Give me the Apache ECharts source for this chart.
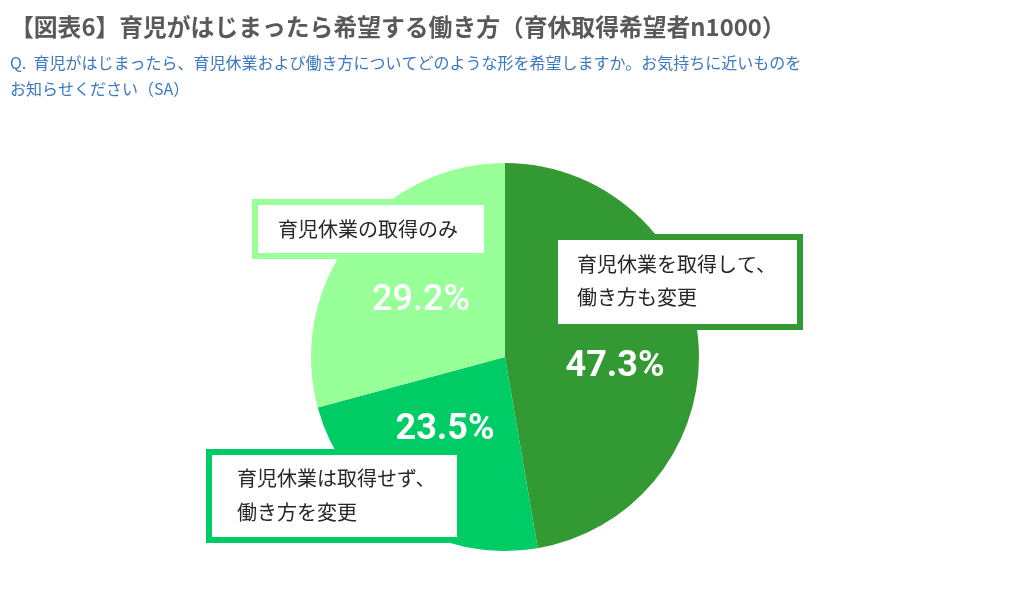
<!DOCTYPE html>
<html>
<head>
<meta charset="utf-8">
<script src="https://cdn.jsdelivr.net/npm/echarts@6/dist/echarts.min.js"></script>
<style>
html,body{margin:0;padding:0;background:#fff;}
#main{width:1010px;height:605px;}
</style>
</head>
<body>
<div id="main"></div>
<script>
// ---- data ----
var categories = ['育児休業を取得して、\n働き方も変更', '育児休業は取得せず、\n働き方を変更', '育児休業の取得のみ'];
var values = [47.3, 23.5, 29.2];
var colors = ['#339933', '#00CC66', '#99FF99'];
var titleText = '【図表6】育児がはじまったら希望する働き方（育休取得希望者n1000）';
var subText = 'Q.  育児がはじまったら、育児休業および働き方についてどのような形を希望しますか。お気持ちに近いものを\nお知らせください（SA）';

// ---- layout (positions of labels, not data) ----
var pctPos = [[615, 367], [445, 430], [421, 301]];
var pctWeight = ['bold', 'bold', '500'];
var boxPos = [[558, 240], [212, 455], [258, 205]];   // top-left of box outline
var boxPad = [[8, 0, 10, 19], [6, 0, 8, 25], [8, 0, 7, 20]];
var boxW = [220, 220, 206];
var boxLH = [33, 34, 33];

var chart = echarts.init(document.getElementById('main'), null, {renderer: 'canvas'});

var pieData = categories.map(function (c, i) {
  return {
    name: c, value: values[i],
    itemStyle: {color: colors[i]},
    label: {fontWeight: pctWeight[i]}
  };
});
var boxData = categories.map(function (c, i) {
  return {
    name: c, value: values[i],
    itemStyle: {color: 'rgba(0,0,0,0)'},
    label: {
      borderColor: colors[i],
      padding: boxPad[i],
      width: boxW[i],
      lineHeight: boxLH[i]
    }
  };
});

chart.setOption({
  animation: false,
  backgroundColor: '#ffffff',
  title: {
    text: titleText,
    subtext: subText,
    left: 5,
    top: 6,
    itemGap: 7,
    textStyle: {
      fontFamily: 'Noto Sans CJK JP',
      fontSize: 23.8,
      fontWeight: 'bold',
      color: '#595959',
      lineHeight: 32
    },
    subtextStyle: {
      fontFamily: 'Noto Sans CJK JP',
      fontSize: 16,
      color: '#3B78C2',
      lineHeight: 26
    }
  },
  series: [
    {
      type: 'pie',
      center: [505, 357],
      radius: 194,
      startAngle: 90,
      clockwise: true,
      silent: true,
      itemStyle: {borderWidth: 0},
      emphasis: {disabled: true},
      label: {
        show: true,
        position: 'inside',
        formatter: function (p) { return p.value.toFixed(1) + '%'; },
        fontFamily: 'Roboto',
        fontSize: 36,
        color: '#ffffff'
      },
      labelLine: {show: false},
      labelLayout: function (p) {
        var pos = pctPos[p.dataIndex];
        return {x: pos[0], y: pos[1], align: 'center', verticalAlign: 'middle'};
      },
      data: pieData
    },
    {
      type: 'pie',
      center: [505, 357],
      radius: 194,
      startAngle: 90,
      clockwise: true,
      silent: true,
      emphasis: {disabled: true},
      itemStyle: {borderWidth: 0},
      label: {
        show: true,
        position: 'inside',
        formatter: '{b}',
        fontFamily: 'Noto Sans CJK JP',
        fontSize: 20,
        color: '#262626',
        align: 'left',
        backgroundColor: '#ffffff',
        borderWidth: 6
      },
      labelLine: {show: false},
      labelLayout: function (p) {
        var pos = boxPos[p.dataIndex];
        return {x: pos[0], y: pos[1], align: 'left', verticalAlign: 'top'};
      },
      data: boxData
    }
  ]
});
</script>
</body>
</html>
